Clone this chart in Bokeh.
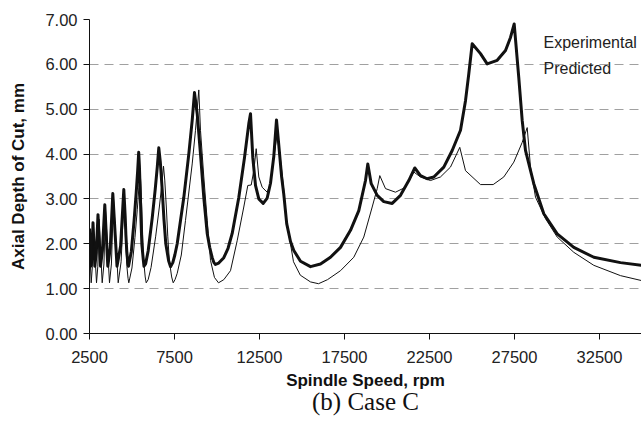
from bokeh.plotting import figure
from bokeh.models import FixedTicker, NumeralTickFormatter, Label, Range1d, Title
from bokeh.embed import file_html
from bokeh.resources import INLINE

# Experimental stability lobe (thick line)
exp_rpm = [2500, 2576, 2650, 2706, 2812, 2900, 3000, 3147, 3260, 3400, 3576, 3720, 3871,
           4118, 4330, 4518, 4600, 4640, 4690, 4750, 4794, 4962, 5124, 5250, 5334, 5394,
           5435, 5484, 5531, 5581, 5668, 5706, 5800, 5950, 6185, 6367, 6489, 6576, 6666, 6776,
           6879, 6989, 7154, 7265, 7400, 7520, 7659, 8047, 8341, 8541, 8676, 8835, 9029, 9224, 9424,
           9570, 9718, 9820, 9912, 10100, 10400, 10650, 10894, 11282, 11618, 11871, 11971, 12106,
           12265, 12459, 12718, 12953, 13147, 13341, 13500, 13635, 13800, 13929, 14100, 14324,
           14518, 14912, 15500, 16088, 16676, 17265, 17853, 18341, 18735, 18871, 19071, 19424,
           19812, 20306, 20794, 21282, 21635, 21971, 22365, 22753, 23341, 23835, 24324, 24618,
           24812, 25012, 25500, 25894, 26482, 26971, 27265, 27482, 27753, 27953, 28147, 28635,
           29224, 30012, 30988, 32165, 33735, 34971]
exp_depth = [2.34, 1.50, 1.80, 2.47, 1.50, 1.80, 2.65, 1.50, 1.85, 2.87, 1.50, 1.90, 3.12,
             1.50, 1.95, 3.21, 2.60, 2.20, 1.85, 1.58, 1.50, 1.83, 2.52, 3.15, 3.63, 4.04,
             3.74, 3.15, 2.52, 1.98, 1.63, 1.50, 1.55, 1.84, 2.56, 3.22, 3.72, 4.14, 3.82, 3.21,
             2.55, 2.00, 1.62, 1.49, 1.58, 1.75, 2.00, 3.03, 4.00, 4.75, 5.37, 4.90, 4.00, 3.03, 2.23,
             1.92, 1.69, 1.58, 1.54, 1.57, 1.69, 1.90, 2.23, 3.03, 3.92, 4.68, 4.90, 3.92,
             3.30, 3.00, 2.90, 3.02, 3.35, 3.95, 4.76, 4.20, 3.50, 3.10, 2.45, 2.05,
             1.85, 1.61, 1.49, 1.55, 1.70, 1.92, 2.30, 2.74, 3.41, 3.78, 3.34, 3.08,
             2.94, 2.90, 3.08, 3.41, 3.69, 3.52, 3.45, 3.49, 3.71, 4.08, 4.53, 5.19,
             5.79, 6.46, 6.24, 6.01, 6.09, 6.31, 6.60, 6.90, 5.70, 4.75, 4.08, 3.34,
             2.67, 2.22, 1.92, 1.70, 1.58, 1.52]

# Predicted stability lobe (thin line)
pred_rpm = [2500, 2600, 2670, 2735, 2912, 2990, 3059, 3247, 3350, 3441, 3676, 3790, 3912,
            4188, 4360, 4529, 4611, 4653, 4699, 4767, 4812, 4997, 5174, 5313, 5405, 5471,
            5518, 5577, 5631, 5689, 5777, 5835, 5950, 6120, 6395, 6609, 6751, 6853, 6927, 7019,
            7104, 7196, 7333, 7424, 7530, 7659, 7900, 8147, 8541, 8735, 8929, 9029, 9224, 9424, 9618,
            9850, 10088, 10400, 10794, 11188, 11576, 11812, 12012, 12165, 12306, 12459, 12659, 12953,
            13147, 13341, 13559, 13700, 13900, 14100, 14500, 14900, 15500, 15971, 16500, 17265,
            18047, 18635, 19129, 19424, 19576, 19912, 20500, 21088, 21576, 21971, 22559, 23147,
            23735, 24282, 24618, 25500, 26247, 26871, 27459, 27953, 28247, 28441, 28735, 29324,
            30012, 30988, 32165, 33735, 34971]
pred_depth = [2.00, 1.13, 1.50, 2.35, 1.13, 1.50, 2.55, 1.13, 1.55, 2.75, 1.13, 1.55, 3.00,
              1.13, 1.60, 3.05, 2.38, 1.90, 1.50, 1.23, 1.13, 1.46, 2.14, 2.77, 3.25, 3.65,
              3.35, 2.77, 2.14, 1.61, 1.26, 1.13, 1.20, 1.47, 2.17, 2.82, 3.31, 3.73, 3.42, 2.82,
              2.17, 1.62, 1.26, 1.13, 1.20, 1.34, 1.75, 2.52, 3.78, 4.53, 5.43, 4.53, 3.49, 2.52, 1.63,
              1.25, 1.13, 1.20, 1.40, 2.07, 2.82, 3.30, 3.31, 3.63, 4.12, 3.49, 3.26, 3.15,
              3.34, 3.93, 4.50, 4.00, 3.30, 2.50, 1.60, 1.30, 1.15, 1.11, 1.20, 1.40,
              1.70, 2.15, 2.82, 3.23, 3.52, 3.23, 3.15, 3.26, 3.60, 3.49, 3.41, 3.49,
              3.71, 4.15, 3.63, 3.32, 3.32, 3.49, 3.82, 4.26, 4.59, 3.71, 3.04, 2.56,
              2.15, 1.81, 1.52, 1.29, 1.18]

x_ticks = [2500, 7500, 12500, 17500, 22500, 27500, 32500]
y_ticks = [0, 1, 2, 3, 4, 5, 6, 7]
legend_names = ["Experimental", "Predicted"]
x_title = "Spindle Speed, rpm"
y_title = "Axial Depth of Cut, mm"
caption = "(b) Case C"

FONT = "Liberation Sans"

p = figure(width=641, height=427, output_backend="svg", toolbar_location=None,
           x_range=Range1d(2500, 34971), y_range=Range1d(0, 7),
           min_border_left=89, min_border_right=0, min_border_top=19, min_border_bottom=94)
p.outline_line_color = None
p.background_fill_color = "white"
p.border_fill_color = "white"

p.line(exp_rpm, exp_depth, line_color="#111111", line_width=3, line_join="round")
p.line(pred_rpm, pred_depth, line_color="#111111", line_width=1, line_join="round")

# axes
p.xaxis.ticker = FixedTicker(ticks=x_ticks)
p.yaxis.ticker = FixedTicker(ticks=y_ticks)
p.xaxis.formatter = NumeralTickFormatter(format="0")
p.yaxis.formatter = NumeralTickFormatter(format="0.00")
for ax in (p.xaxis[0], p.yaxis[0]):
    ax.major_label_text_font = FONT
    ax.major_label_text_font_size = "16.5px"
    ax.major_label_text_color = "#222222"
    ax.axis_label_text_font = FONT
    ax.axis_label_text_font_size = "17px"
    ax.axis_label_text_font_style = "bold"
    ax.axis_label_text_color = "#111111"
    ax.axis_line_color = "#111111"
    ax.major_tick_line_color = "#111111"
    ax.major_tick_in = 0
    ax.major_tick_out = 6
    ax.minor_tick_line_color = None
p.xaxis.axis_label = x_title
p.yaxis.axis_label = y_title
p.xaxis.major_label_standoff = 11
p.xaxis.axis_label_standoff = 5
p.yaxis.major_label_standoff = 6
p.yaxis.axis_label_standoff = 14

p.xgrid.visible = False
p.ygrid.grid_line_color = "#a0a0a0"
p.ygrid.grid_line_dash = "9 6"
p.ygrid.grid_line_width = 1

# legend texts (line samples fall outside the visible area)
p.add_layout(Label(x=29206, y=6.49, text=legend_names[0], text_font=FONT,
                   text_font_size="16px", text_color="#222222", text_baseline="middle"))
p.add_layout(Label(x=29206, y=5.91, text=legend_names[1], text_font=FONT,
                   text_font_size="16px", text_color="#222222", text_baseline="middle"))

# caption below the chart
p.add_layout(Title(text=caption, align="center", text_font="Liberation Serif",
                   text_font_size="25px", text_font_style="normal", text_color="#111111",
                   standoff=-13, offset=4), "below")

open("out.html", "w").write(file_html(p, INLINE))
